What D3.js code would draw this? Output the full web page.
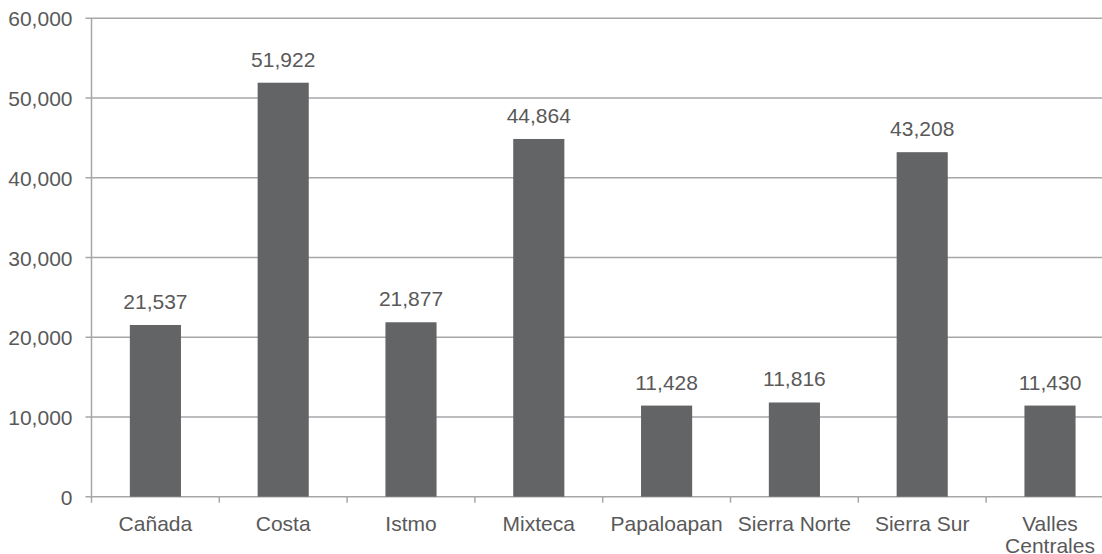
<!DOCTYPE html>
<html><head><meta charset="utf-8">
<script src="https://cdn.jsdelivr.net/npm/d3@7"></script>
<style>
html,body{margin:0;padding:0;background:#fff;overflow:hidden;}
text{font-family:"Liberation Sans",Arial,sans-serif;fill:#595959;}
</style></head>
<body>
<svg id="chart" width="1102" height="554"></svg>
<script>
const categories = ["Cañada","Costa","Istmo","Mixteca","Papaloapan","Sierra Norte","Sierra Sur","Valles Centrales"];
const values = [21537, 51922, 21877, 44864, 11428, 11816, 43208, 11430];
const yTicks = [0, 10000, 20000, 30000, 40000, 50000, 60000];

const svg = d3.select("#chart");
const plotLeft = 91.5, step = 127.8, plotTop = 18.3, plotBottom = 496.7;
const x = d3.scaleBand().domain(categories).range([plotLeft, plotLeft + step * categories.length]).padding(0);
const y = d3.scaleLinear().domain([0, 60000]).range([plotBottom, plotTop]);
const fmt = d3.format(",");
const gridColor = "#A7A7AA";

// gridlines
svg.append("g").selectAll("line").data(yTicks).join("line")
  .attr("x1", plotLeft - 6).attr("x2", 1102)
  .attr("y1", d => y(d)).attr("y2", d => y(d))
  .attr("stroke", gridColor).attr("stroke-width", 1.5);

// y tick labels
svg.append("g").selectAll("text").data(yTicks).join("text")
  .attr("x", 72.5).attr("y", d => y(d) + 8)
  .attr("text-anchor", "end").attr("font-size", 21)
  .text(d => fmt(d));

// y axis line
svg.append("line").attr("x1", plotLeft).attr("x2", plotLeft).attr("y1", plotTop).attr("y2", plotBottom + 6)
  .attr("stroke", gridColor).attr("stroke-width", 1.5);

// x ticks at band boundaries
const bounds = categories.map(c => x(c)).slice(1);
svg.append("g").selectAll("line").data(bounds).join("line")
  .attr("x1", d => d).attr("x2", d => d).attr("y1", plotBottom).attr("y2", plotBottom + 6)
  .attr("stroke", gridColor).attr("stroke-width", 1.5);

// bars
const bw = x.bandwidth() * 0.4;
svg.append("g").selectAll("rect").data(values).join("rect")
  .attr("x", (d, i) => x(categories[i]) + x.bandwidth() / 2 - bw / 2)
  .attr("width", bw)
  .attr("y", d => y(d))
  .attr("height", d => y(0) - y(d))
  .attr("fill", "#636466");

// value labels
svg.append("g").selectAll("text").data(values).join("text")
  .attr("x", (d, i) => x(categories[i]) + x.bandwidth() / 2)
  .attr("y", d => y(d) - 16)
  .attr("text-anchor", "middle").attr("font-size", 21)
  .text(d => fmt(d));

// category labels (wrap long ones)
const catG = svg.append("g");
categories.forEach(c => {
  const cx = x(c) + x.bandwidth() / 2;
  const t = catG.append("text").attr("text-anchor", "middle").attr("font-size", 21);
  const lines = c === "Valles Centrales" ? ["Valles", "Centrales"] : [c];
  lines.forEach((l, k) => {
    t.append("tspan").attr("x", cx).attr("y", 530.5 + k * 22.5).text(l);
  });
});
</script>
</body></html>
